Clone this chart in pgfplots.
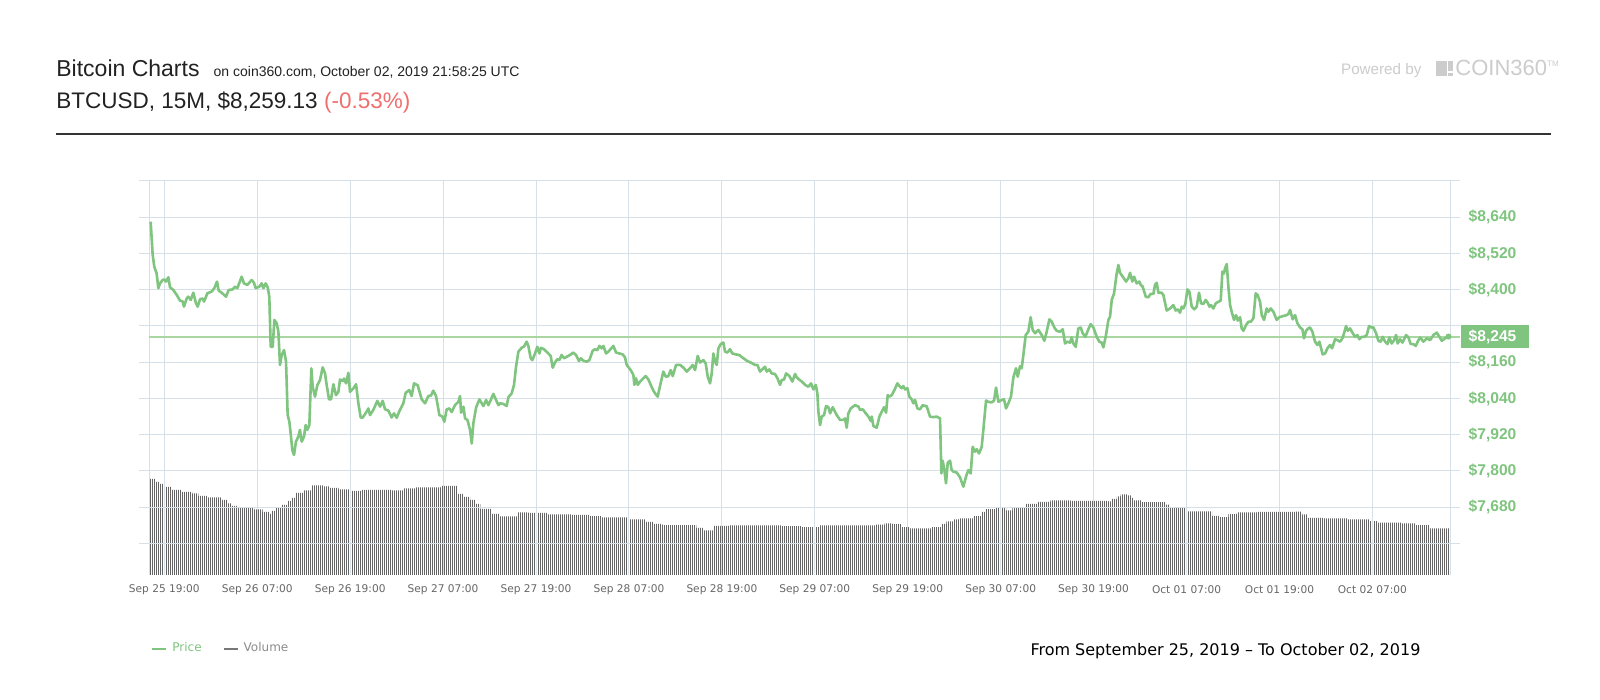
\documentclass[border=0pt]{standalone}
\usepackage{fontspec}
\setmainfont{Liberation Sans}
\newfontfamily\dejavu{DejaVu Sans}
\usepackage{pgfplots}
\pgfplotsset{compat=1.18}
\usetikzlibrary{patterns.meta}
\definecolor{pgreen}{RGB}{127,196,127}
\definecolor{plight}{RGB}{170,214,162}
\definecolor{gridc}{RGB}{214,224,232}
\definecolor{volc}{RGB}{100,100,100}
\definecolor{legvol}{RGB}{120,120,120}
\definecolor{hdr}{RGB}{34,34,34}
\definecolor{redc}{RGB}{240,110,110}
\definecolor{logoc}{RGB}{204,204,204}
\definecolor{tickc}{RGB}{102,102,102}
\definecolor{sepc}{RGB}{51,51,51}
\definecolor{legc}{RGB}{140,140,140}
\begin{document}
\begin{tikzpicture}
\fill[white] (0,0) rectangle (800bp,350bp);
\useasboundingbox (0,0) rectangle (800bp,350bp);
% ---------- header ----------
\node[anchor=base west, inner sep=0pt, text=hdr, font=\fontsize{11.5bp}{13bp}\selectfont] at (28bp,311.65bp) {Bitcoin Charts};
\node[anchor=base west, inner sep=0pt, text=hdr, font=\fontsize{7bp}{8bp}\selectfont] at (106.65bp,311.65bp) {on coin360.com, October 02, 2019 21:58:25 UTC};
\node[anchor=base west, inner sep=0pt, text=hdr, font=\fontsize{11.25bp}{13bp}\selectfont] at (28bp,295.5bp) {BTCUSD, 15M, \$8,259.13 \textcolor{redc}{(-0.53\%)}};
\draw[sepc, line width=1bp] (28bp,282.85bp) -- (775.5bp,282.85bp);
\node[anchor=base west, inner sep=0pt, text=logoc, font=\fontsize{7.6bp}{9bp}\selectfont] at (670.35bp,312.5bp) {Powered by};
\fill[logoc] (718bp,312bp) rectangle (723.35bp,319.65bp);
\fill[logoc] (724.15bp,314.5bp) rectangle (726.3bp,319.65bp);
\fill[logoc] (724.15bp,312bp) rectangle (726.3bp,313.7bp);
\node[anchor=base west, inner sep=0pt, text=logoc, font=\fontsize{11bp}{12bp}\selectfont] at (727.5bp,312bp) {COIN360\raisebox{4.8bp}{\fontsize{4bp}{5bp}\selectfont TM}};
\node[anchor=base, inner sep=0pt, text=black, font=\dejavu\fontsize{8bp}{9bp}\selectfont] at (612.75bp,22.4bp) {From September 25, 2019 – To October 02, 2019};
% ---------- volume ----------
\begin{axis}[at={(69.65bp,62.5bp)}, anchor=south west, scale only axis,
  width=660.5bp, height=197.25bp, xmin=-3.228, xmax=167.35, ymin=0, ymax=394.5, hide axis]
\addplot[const plot, draw=none, pattern={Lines[angle=90,distance=1bp,line width=0.42bp]}, pattern color=volc] coordinates {
(-1.94,96) (-1.2,93) (-0.6,91) (0.1,88) (0.9,85) (2.2,83) (3.6,81.6) (4.4,79) (5.5,77.5) (7.3,75) (8.1,71.5) (8.7,69) (9.5,67.5) (11.6,65.5) (12.7,63) (13.5,61) (13.8,64) (14.3,67) (15.1,70) (15.9,74) (16.4,77) (17.0,82) (18.0,84.5) (19.0,89.5) (20.5,88.5) (21.3,87) (22.5,85.5) (24.0,84) (25.5,85) (29.3,84.5) (30.9,86.5) (32.5,87.5) (35.7,89) (37.9,81) (38.6,78) (39.5,75) (40.2,71) (40.8,66) (42.2,61) (43.2,58.5) (45.6,62.5) (47.0,62) (49.4,60.5) (52.6,60) (55.0,58.8) (56.4,57.5) (59.8,55.5) (62.2,53) (63.2,51) (64.3,49.8) (68.7,47) (69.6,44.5) (71.0,49) (73.0,49.5) (79.6,48.8) (82.2,47.8) (84.6,49.5) (91.9,50.3) (93.0,51.5) (94.0,50.8) (95.1,47.8) (96.2,46.6) (99.1,47.8) (100.4,51.1) (101.0,53.5) (102.0,55.5) (102.6,56.5) (104.5,58.8) (105.5,63) (106.1,65.9) (107.4,67.2) (108.7,64.5) (109.5,67.2) (111.2,71) (112.8,73) (114.4,74.7) (117.0,74.2) (121.9,73.6) (122.4,76) (123.0,78.5) (123.5,80.5) (124.3,79.5) (124.8,77) (125.3,74.5) (126.2,72.9) (129.4,70.4) (129.9,66.9) (131.8,63.5) (135.3,59.2) (136.3,57.8) (137.4,60.8) (138.5,62.5) (141.2,63.2) (146.0,63.3) (146.8,60.5) (147.6,57) (149.7,56.5) (152.9,55.5) (155.6,53.8) (156.7,52.3) (159.9,51.5) (161.5,49.8) (163.4,46.5) (166.06,46.5)
} \closedcycle;
\end{axis}
% ---------- price ----------
\begin{axis}[at={(69.65bp,62.5bp)}, anchor=south west, scale only axis,
  width=660.5bp, height=197.25bp, xmin=-3.228, xmax=167.35, ymin=7455.7, ymax=8761.5,
  axis line style={draw=none}, major tick length=0pt, clip=false,
  xtick={0,12,...,156},
  xticklabels={Sep 25 19:00,Sep 26 07:00,Sep 26 19:00,Sep 27 07:00,Sep 27 19:00,Sep 28 07:00,Sep 28 19:00,Sep 29 07:00,Sep 29 19:00,Sep 30 07:00,Sep 30 19:00,Oct 01 07:00,Oct 01 19:00,Oct 02 07:00},
  ytick={7560,7680,...,8760},
  yticklabels={{},{\$7,680},{\$7,800},{\$7,920},{\$8,040},{\$8,160},{},{\$8,400},{\$8,520},{\$8,640},{}},
  yticklabel pos=right,
  grid=major, grid style={gridc, line width=0.5bp},
  extra x ticks={-1.937,166.06}, extra x tick labels={}, extra x tick style={grid=major, major tick length=0pt},
  xticklabel style={font=\dejavu\fontsize{5.3bp}{6bp}\selectfont, text=tickc, anchor=center, yshift=-7.5bp, inner sep=0pt},
  yticklabel style={font=\fontsize{7.8bp}{9bp}\selectfont\bfseries, text=pgreen, anchor=west, xshift=4bp, inner sep=0pt},
  legend style={at={(axis description cs:0.00886,-0.187)}, anchor=west, draw=none, fill=none, inner sep=0pt,
    font=\dejavu\fontsize{6bp}{7bp}\selectfont, nodes={inner xsep=2.5bp},
    /tikz/every even column/.append style={column sep=8bp}},
  legend columns=2,
  legend image code/.code={\draw[#1, line width=1bp] (0bp,0bp) -- (7bp,0bp);}]
\addplot[plight, line width=1bp, forget plot] coordinates {(-1.937,8245) (167.35,8245)};
\addplot[pgreen, line width=1.3bp, line join=round] coordinates {
(-1.76,8625) (-1.50,8515) (-1.29,8476) (-0.99,8454) (-0.77,8405) (-0.56,8421) (-0.21,8432) (0.00,8434) (0.22,8427) (0.52,8441) (0.74,8408) (1.17,8399) (1.60,8383) (2.03,8364) (2.37,8361) (2.54,8344) (2.89,8371) (3.10,8377) (3.41,8366) (3.75,8390) (4.09,8355) (4.31,8344) (4.61,8368) (4.95,8371) (5.13,8361) (5.56,8388) (6.12,8394) (6.46,8405) (6.81,8427) (7.02,8397) (7.41,8390) (7.97,8377) (8.31,8399) (8.83,8401) (9.13,8410) (9.43,8405) (9.99,8443) (10.29,8421) (10.72,8416) (11.28,8432) (11.58,8423) (11.80,8405) (12.27,8410) (12.57,8421) (12.79,8405) (13.09,8421) (13.35,8408) (13.56,8377) (13.74,8211) (14.00,8211) (14.21,8300) (14.51,8289) (14.73,8261) (14.94,8151) (15.16,8184) (15.46,8200) (15.72,8162) (15.93,7985) (16.15,7963) (16.36,7914) (16.53,7869) (16.75,7853) (17.00,7897) (17.31,7914) (17.52,7936) (17.74,7897) (18.04,7914) (18.25,7952) (18.47,7936) (18.73,7952) (18.99,8140) (19.16,8079) (19.46,8046) (19.76,8084) (20.11,8101) (20.45,8143) (20.75,8123) (20.97,8084) (21.27,8037) (21.53,8037) (21.83,8087) (22.17,8051) (22.48,8062) (22.69,8103) (23.04,8098) (23.21,8106) (23.47,8090) (23.77,8125) (23.98,8062) (24.41,8073) (24.76,8087) (25.06,8024) (25.36,7977) (25.62,7977) (26.05,7993) (26.35,8007) (26.56,7985) (26.99,8002) (27.51,8032) (27.86,8013) (28.20,8032) (28.50,8004) (28.93,8000) (29.36,7977) (29.66,7991) (30.01,7976) (30.35,7998) (30.87,8024) (31.17,8059) (31.64,8068) (31.94,8048) (32.25,8090) (32.72,8084) (33.24,8037) (33.67,8024) (34.10,8048) (34.44,8050) (34.74,8066) (35.09,8048) (35.52,7985) (35.91,7980) (36.16,7963) (36.46,8004) (36.81,8007) (37.11,7995) (37.54,8018) (37.97,8029) (38.19,8048) (38.32,7993) (38.62,8013) (38.84,7974) (39.14,7969) (39.48,7936) (39.70,7891) (39.91,7958) (40.26,8010) (40.69,8037) (41.20,8015) (41.55,8035) (41.85,8018) (42.15,8035) (42.49,8055) (42.84,8035) (43.14,8018)
(43.35,8024) (43.78,8022) (44.21,8015) (44.43,8044) (44.86,8057) (45.16,8085) (45.42,8145) (45.72,8195) (46.15,8208) (46.45,8212) (46.79,8228) (47.01,8214) (47.31,8173) (47.53,8167) (47.87,8189) (48.17,8211) (48.43,8189) (48.64,8208) (49.03,8203) (49.59,8189) (49.89,8181) (50.15,8142) (50.45,8159) (50.75,8170) (51.01,8167) (51.31,8184) (51.62,8173) (51.96,8178) (52.39,8184) (52.82,8192) (53.16,8184) (53.55,8164) (53.77,8173) (54.11,8165) (54.54,8162) (54.89,8167) (55.32,8198) (55.62,8203) (55.92,8200) (56.18,8214) (56.48,8206) (56.70,8214) (57.04,8189) (57.34,8195) (57.99,8214) (58.33,8192) (58.76,8189) (59.19,8186) (59.49,8176) (59.71,8151) (60.22,8134) (60.57,8118) (60.70,8085) (60.91,8107) (61.13,8085) (61.43,8096) (61.86,8107) (62.16,8114) (62.51,8103) (62.81,8085) (63.15,8066) (63.37,8057) (63.71,8046) (64.01,8081) (64.44,8129) (64.75,8112) (65.09,8114) (65.39,8134) (65.65,8114) (66.08,8151) (66.60,8151) (67.03,8142) (67.46,8129) (67.89,8140) (68.23,8151) (68.53,8134) (68.88,8181) (69.18,8159) (69.61,8167) (69.91,8156) (70.17,8112) (70.47,8090) (70.69,8123) (70.90,8189) (71.12,8162) (71.33,8151) (71.55,8206) (71.85,8220) (72.19,8225) (72.41,8195) (72.71,8192) (73.05,8203) (73.35,8189) (73.78,8186) (74.22,8184) (74.78,8173) (75.21,8165) (75.72,8159) (76.28,8151) (76.58,8151) (76.93,8129) (77.36,8140) (77.57,8145) (77.79,8129) (78.13,8136) (78.43,8123) (78.86,8121) (79.17,8107) (79.51,8085) (79.73,8101) (80.03,8103) (80.29,8123) (80.72,8114) (81.10,8096) (81.45,8121) (81.66,8110) (81.96,8103) (82.31,8096) (82.74,8085) (83.17,8079) (83.51,8090) (83.81,8070) (84.12,8085) (84.33,8057) (84.46,7996) (84.68,7952) (84.89,7980) (85.19,7985) (85.45,8015) (85.75,8011) (85.97,7991) (86.31,8011) (86.83,7985) (87.26,7969) (87.69,7969) (87.90,7974) (88.12,7943) (88.33,7991) (88.64,8007) (89.20,8018) (89.63,8013) (89.84,8002) (90.19,8004) (90.57,7991) (90.92,7980) (91.22,7966) (91.35,7980) (91.56,7949) (91.99,7943) (92.34,7980) (92.64,7996) (92.94,8011) (93.20,7993) (93.41,8051) (93.63,8046) (93.93,8051) (94.28,8068) (94.66,8090)
(95.00,8079) (95.22,8074) (95.43,8081) (95.65,8070) (95.95,8074) (96.21,8046) (96.51,8037) (96.72,8024) (96.94,8035) (97.24,8007) (97.58,8004) (97.93,8018) (98.23,8015) (98.44,8015) (98.87,7980) (99.30,7978) (99.74,7980) (100.17,7974) (100.34,7792) (100.51,7834) (100.73,7803) (100.94,7759) (101.16,7827) (101.46,7834) (101.67,7803) (101.89,7798) (102.32,7795) (102.75,7779) (103.18,7748) (103.52,7781) (103.82,7803) (104.13,7792) (104.38,7880) (104.69,7864) (104.90,7872) (105.20,7858) (105.55,7880) (105.76,7936) (106.11,8033) (106.41,8029) (106.84,8027) (107.14,8033) (107.40,8076) (107.70,8029) (108.13,8035) (108.43,8037) (108.69,8007) (108.99,8024) (109.33,8046) (109.64,8110) (109.98,8140) (110.20,8112) (110.50,8147) (110.71,8140) (110.93,8184) (111.23,8250) (111.57,8261) (111.87,8309) (112.13,8267) (112.43,8256) (112.86,8267) (113.30,8250) (113.64,8231) (113.94,8261) (114.29,8302) (114.59,8294) (114.93,8275) (115.23,8264) (115.66,8261) (116.01,8269) (116.31,8222) (116.61,8228) (116.95,8225) (117.17,8242) (117.38,8222) (117.69,8211) (118.03,8272) (118.33,8275) (118.59,8256) (118.93,8244) (119.32,8269) (119.62,8286) (119.97,8275) (120.40,8244) (120.74,8228) (121.04,8225) (121.26,8209) (121.60,8250) (121.91,8300) (122.12,8311) (122.34,8366) (122.64,8388) (122.98,8454) (123.20,8482) (123.41,8456) (123.76,8443) (124.19,8427) (124.49,8438) (124.70,8456) (125.00,8427) (125.22,8443) (125.56,8421) (125.91,8427) (126.08,8416) (126.34,8410) (126.73,8377) (127.07,8375) (127.37,8386) (127.72,8386) (127.93,8416) (128.15,8423) (128.36,8390) (128.79,8390) (129.01,8382) (129.44,8331) (129.87,8338) (130.30,8349) (130.60,8331) (130.86,8335) (131.16,8324) (131.38,8344) (131.59,8338) (131.85,8353) (132.11,8401) (132.37,8393) (132.67,8344) (133.01,8335) (133.31,8344) (133.61,8390) (133.87,8355) (134.17,8353) (134.47,8366) (134.73,8357) (134.95,8344) (135.16,8349) (135.46,8338) (135.77,8355) (136.11,8360) (136.41,8364) (136.63,8460) (136.84,8454) (136.97,8471) (137.19,8485) (137.40,8410) (137.62,8349) (137.83,8327) (138.13,8300) (138.39,8316) (138.61,8298) (138.91,8309) (139.12,8272) (139.34,8264) (139.68,8283) (139.99,8294) (140.29,8294) (140.63,8305) (140.93,8388) (141.19,8382) (141.49,8360) (141.71,8316) (142.01,8300) (142.35,8338) (142.57,8327) (142.87,8338) (143.21,8327) (143.64,8300) (143.99,8309) (144.50,8313) (144.93,8316) (145.15,8320) (145.37,8333) (145.71,8302) (146.01,8316) (146.31,8289) (146.66,8275) (146.96,8269) (147.17,8239) (147.43,8264) (147.73,8272) (147.95,8275) (148.25,8261) (148.59,8228) (148.90,8217) (149.15,8228) (149.58,8186) (149.89,8189) (150.19,8206) (150.53,8217) (150.79,8206) (151.18,8236) (151.48,8233) (151.82,8228) (152.12,8239) (152.34,8256) (152.60,8280) (152.81,8264) (153.11,8272) (153.46,8256) (153.76,8244) (154.06,8250) (154.32,8236) (154.62,8244) (154.92,8244) (155.27,8250) (155.57,8280) (155.87,8275) (156.13,8275) (156.47,8256) (156.77,8231) (157.07,8228) (157.33,8244) (157.63,8228) (157.94,8220) (158.19,8242) (158.49,8222) (158.80,8233) (159.05,8250) (159.27,8222) (159.57,8236) (159.87,8225) (160.09,8236) (160.35,8250) (160.65,8242) (160.95,8220) (161.29,8220) (161.59,8214) (161.85,8228) (162.15,8242) (162.59,8228) (163.02,8239) (163.45,8233) (163.88,8250) (164.31,8258) (164.65,8244) (164.95,8231) (165.38,8239) (165.82,8245)
};
\addlegendentry{\textcolor{pgreen}{Price}}
\addlegendimage{legvol, line width=1bp}
\addlegendentry{\textcolor{legc}{Volume}}
\addplot[only marks, mark=*, mark size=1.3bp, pgreen, forget plot] coordinates {(165.82,8245)};
\node[anchor=west, fill=pgreen, text=white, inner xsep=0pt, inner ysep=0pt, minimum height=11.35bp, font=\fontsize{7.8bp}{9bp}\selectfont\bfseries] at (axis cs:167.35,8245) {\hspace*{4bp}\$8,245\hspace*{6.5bp}};
\end{axis}
\end{tikzpicture}
\end{document}
